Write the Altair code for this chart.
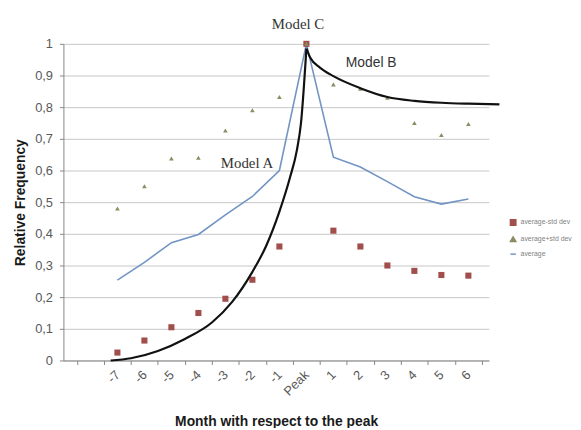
import altair as alt
import pandas as pd

# ---- data ----
months = [-7, -6, -5, -4, -3, -2, -1, 0, 1, 2, 3, 4, 5, 6]
avg_minus_std = [0.025, 0.063, 0.105, 0.15, 0.195, 0.255, 0.36, 1.0, 0.41, 0.36, 0.30, 0.283, 0.27, 0.268]
avg_plus_std = [0.48, 0.55, 0.638, 0.64, 0.726, 0.79, 0.832, 1.0, 0.872, 0.858, 0.83, 0.75, 0.712, 0.747]
average = [0.254, 0.31, 0.372, 0.398, 0.46, 0.518, 0.6, 1.0, 0.642, 0.611, 0.565, 0.517, 0.494, 0.51]

model_a_x = [-7.25, -6.5, -5.5, -4.5, -3.5, -2.75, -2.0, -1.5, -1.0, -0.6, -0.35, -0.2, 0.0]
model_a_y = [0.0, 0.007, 0.03, 0.068, 0.12, 0.185, 0.28, 0.36, 0.47, 0.58, 0.665, 0.75, 0.985]
model_b_x = [0.0, 0.15, 0.5, 1.0, 2.0, 3.0, 4.0, 5.0, 6.0, 7.15]
model_b_y = [0.985, 0.955, 0.925, 0.898, 0.86, 0.832, 0.82, 0.814, 0.811, 0.809]

series_names = ["average-std dev", "average+std dev", "average"]
series_colors = ["#a14f4c", "#8c8b62", "#7294c4"]
series_shapes = ["square", "triangle-up", "stroke"]

ann_text = ["Model C", "Model A", "Model B"]
ann_x = [-0.31, -2.2, 2.4]
ann_y = [1.063, 0.623, 0.938]
ann_serif = [True, True, False]

axis_ticks_x = list(range(-9, 7))
axis_ticks_y = [0, 0.1, 0.2, 0.3, 0.4, 0.5, 0.6, 0.7, 0.8, 0.9, 1.0]

# ---- tables ----
pts = pd.DataFrame({
    "month": months * 2,
    "value": avg_minus_std + avg_plus_std,
    "series": [series_names[0]] * len(months) + [series_names[1]] * len(months),
})
avg_df = pd.DataFrame({"month": months, "value": average, "series": series_names[2]})
ma = pd.DataFrame({"month": model_a_x, "value": model_a_y})
mb = pd.DataFrame({"month": model_b_x, "value": model_b_y})
ann = pd.DataFrame({"month": ann_x, "value": ann_y, "text": ann_text, "serif": ann_serif})

x_scale = alt.Scale(domain=[-9, 6.76], nice=False, zero=False)
y_scale = alt.Scale(domain=[0, 1], nice=False, zero=False)

step = 430 / (6.76 + 9)

x_axis = alt.Axis(
    values=axis_ticks_x,
    labelExpr="datum.value < -7 ? '' : (datum.value == 0 ? 'Peak' : '' + datum.value)",
    title="Month with respect to the peak",
    grid=False,
    tickOffset=step / 2,
    labelOffset=-step / 2,
    labelAngle=315,
    labelAlign="right",
    labelBaseline="middle",
    labelPadding=8,
    labelOverlap=False,
    labelFlush=False,
    labelFontSize=13,
    labelColor="#595959",
    titleFontSize=14,
    titleFontWeight="bold",
    titleColor="#1a1a1a",
    titleY=62,
    titleBaseline="middle",
    tickSize=4,
)
y_axis = alt.Axis(
    values=axis_ticks_y,
    labelExpr="replace(format(datum.value, '.1~f'), '.', ',')",
    title="Relative Frequency",
    grid=True,
    labelPadding=7,
    labelFontSize=13,
    labelColor="#595959",
    labelFlush=False,
    labelOverlap=False,
    titleFontSize=14,
    titleFontWeight="bold",
    titleColor="#1a1a1a",
    titleX=-43,
    titleBaseline="middle",
    tickSize=4,
)

legend = alt.Legend(
    orient="none",
    legendX=451,
    legendY=177,
    labelFontSize=7,
    labelColor="#7f7f7f",
    symbolSize=30,
    rowPadding=5,
    padding=0,
    symbolStrokeWidth=1.5,
)

color_enc = alt.Color("series:N", scale=alt.Scale(domain=series_names, range=series_colors),
                      legend=legend, title=None)
shape_enc = alt.Shape("series:N", scale=alt.Scale(domain=series_names, range=series_shapes),
                      legend=legend, title=None)

x_enc = alt.X("month:Q", scale=x_scale, axis=x_axis)
y_enc = alt.Y("value:Q", scale=y_scale, axis=y_axis)

avg_line = alt.Chart(avg_df).mark_line(strokeWidth=1.6).encode(
    x=x_enc, y=y_enc, color=color_enc
)

squares = alt.Chart(pts).transform_filter(
    alt.datum.series == series_names[0]
).mark_point(filled=True, size=38, opacity=1).encode(
    x=x_enc, y=y_enc, color=color_enc, shape=shape_enc
)
triangles = alt.Chart(pts).transform_filter(
    alt.datum.series == series_names[1]
).mark_point(filled=True, size=22, opacity=1).encode(
    x=x_enc, y=y_enc, color=color_enc, shape=shape_enc
)

model_a = alt.Chart(ma).mark_line(color="#111111", strokeWidth=2.2, interpolate="monotone").encode(
    x=x_enc, y=y_enc
)
model_b = alt.Chart(mb).mark_line(color="#111111", strokeWidth=2.2, interpolate="monotone").encode(
    x=x_enc, y=y_enc
)

ann_serif_layer = alt.Chart(ann).transform_filter(alt.datum.serif).mark_text(
    font="Liberation Serif", fontSize=15, color="#333333", align="center", baseline="middle"
).encode(x=x_enc, y=y_enc, text="text:N")
ann_sans_layer = alt.Chart(ann).transform_filter(~alt.datum.serif).mark_text(
    font="Liberation Sans", fontSize=14, color="#333333", align="center", baseline="middle"
).encode(x=x_enc, y=y_enc, text="text:N")

chart = alt.layer(
    avg_line, squares, triangles, model_a, model_b, ann_serif_layer, ann_sans_layer
).properties(
    width=430,
    height=320,
    autosize=alt.AutoSizeParams(type="none"),
    padding={"left": 56, "top": 34, "right": 85, "bottom": 66},
    background="white",
).configure_view(
    stroke=None
).configure_axis(
    domainColor="#868686",
    tickColor="#868686",
    gridColor="#c6c6c6",
    labelFont="Liberation Sans",
    titleFont="Liberation Sans",
)

chart.save("out.html", embed_options={"renderer": "svg", "actions": False})
